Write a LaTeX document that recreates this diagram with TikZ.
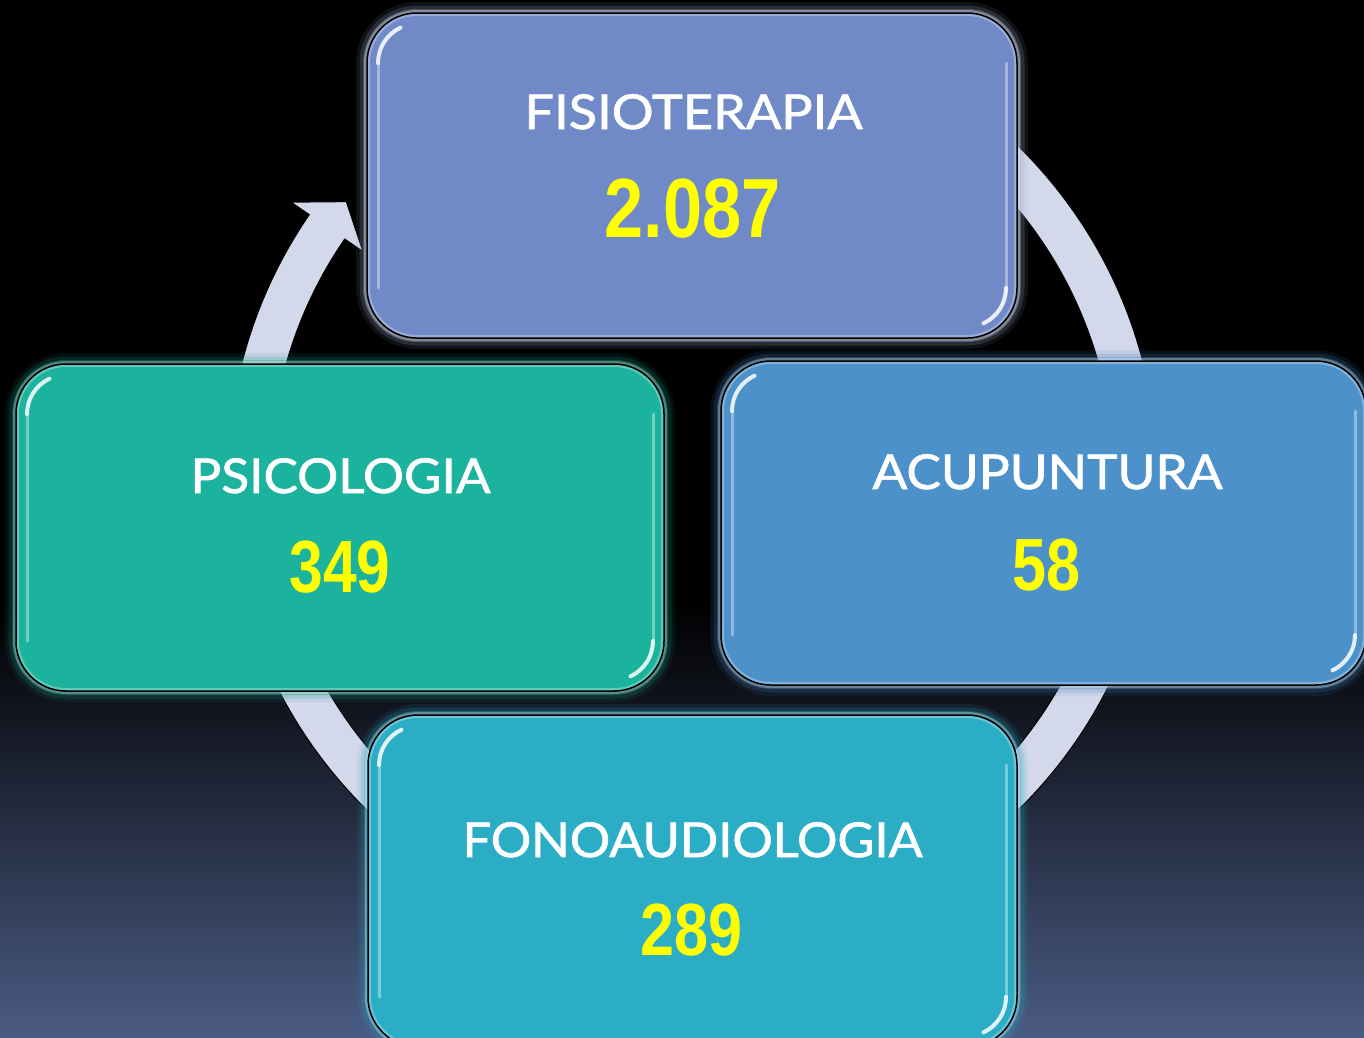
\documentclass[tikz,border=0pt]{standalone}
\usepackage{fontspec}
\usepackage{graphicx}
\usetikzlibrary{calc}
\newfontfamily\labfont{Lato}[FakeBold=1.4]
\newfontfamily\numfont{Liberation Sans}[FakeStretch=0.8]
\definecolor{ringc}{HTML}{D3D8EA}
\definecolor{bgmid}{HTML}{10131C}
\definecolor{bgbot}{HTML}{4A5B83}
\definecolor{cfis}{HTML}{7089C7}
\definecolor{cpsi}{HTML}{1BB29E}
\definecolor{cacu}{HTML}{4C91CA}
\definecolor{cfon}{HTML}{2BADC6}
\definecolor{gfis}{HTML}{9AA8CC}
\definecolor{gpsi}{HTML}{1A9A88}
\definecolor{gacu}{HTML}{4585BD}
\definecolor{gfon}{HTML}{2AA5C0}
\definecolor{numyellow}{HTML}{FFFF00}
\begin{document}
\begin{tikzpicture}[x=1pt,y=-1pt,
  glowbox/.style={preaction={draw=#1,line width=22pt,draw opacity=0.10},
                  preaction={draw=#1,line width=15pt,draw opacity=0.18},
                  preaction={draw=#1,line width=8pt,draw opacity=0.35}},
  boxbase/.style={rectangle, rounded corners=50pt, inner sep=0pt, outer sep=0pt,
                  postaction={draw=white, draw opacity=0.30, line width=6pt},
                  postaction={draw=black, line width=1.5pt}},
  labtxt/.style={text=white, inner sep=0pt, anchor=base,
                 font=\labfont\fontsize{48}{48}\selectfont},
  numtxt/.style={text=numyellow, inner sep=0pt, anchor=base,
                 font=\numfont\bfseries\fontsize{74}{74}\selectfont},
  hlw/.style={draw=white, line width=3pt, draw opacity=0.38, line cap=round},
  hlc/.style={draw=white, line width=4pt, draw opacity=0.85, line cap=round}]
\useasboundingbox (0,0) rectangle (1364,1037);
\clip (0,0) rectangle (1364,1037);
% background
\fill[black] (0,0) rectangle (1364,1037);
\shade[top color=black, bottom color=bgmid] (0,600) rectangle (1364,700);
\shade[top color=bgmid, bottom color=bgbot] (0,699.5) rectangle (1364,1037);
% ring with arrow
\coordinate (rc) at (692.5,478);
\filldraw[fill=ringc, draw=black, line width=1pt]
  ($(rc)+(-130:465)$) arc[start angle=-130, end angle=214.5, radius=465]
  -- ($(rc)+(214.5:487)$) -- ($(rc)+(218.6:443)$) -- ($(rc)+(214.5:400)$)
  -- ($(rc)+(214.5:422)$) arc[start angle=214.5, end angle=-130, radius=422]
  -- cycle;
% boxes
\node[boxbase, glowbox=gfis, fill=cfis, minimum width=650pt, minimum height=325pt] (fis) at (692,175.5) {};
\node[boxbase, glowbox=gpsi, fill=cpsi, minimum width=648pt, minimum height=327pt] (psi) at (340,527.5) {};
\node[boxbase, glowbox=gacu, fill=cacu, minimum width=645pt, minimum height=324pt] (acu) at (1043.5,523) {};
\node[boxbase, glowbox=gfon, fill=cfon, minimum width=649pt, minimum height=332pt] (fon) at (692.5,881) {};
% highlights
\foreach \n in {fis,psi,acu,fon}{
  \draw[hlw] ($(\n.south west)+(11,-50)$) -- ($(\n.north west)+(11,50)$);
  \draw[hlc] ($(\n.north west)+(11,50)$) arc[start angle=180, end angle=245, radius=39];
  \draw[hlw] ($(\n.north east)+(-11,50)$) -- ($(\n.south east)+(-11,-50)$);
  \draw[hlc] ($(\n.south east)+(-11,-50)$) arc[start angle=0, end angle=65, radius=39];
}
% texts
\node[labtxt] (fisT) at (693.5,129) {\resizebox{338pt}{\height}{FISIOTERAPIA}};
\node[numtxt, font=\numfont\bfseries\fontsize{84}{84}\selectfont] (fisN) at (692.5,237) {\resizebox{176pt}{\height}{2.087}};
\node[labtxt] (psiT) at (340.5,493) {\resizebox{300pt}{\height}{PSICOLOGIA}};
\node[numtxt] (psiN) at (340,592) {\resizebox{101pt}{\height}{349}};
\node[labtxt] (acuT) at (1047.5,489) {\resizebox{350pt}{\height}{ACUPUNTURA}};
\node[numtxt] (acuN) at (1046.5,590) {\resizebox{68pt}{\height}{58}};
\node[labtxt] (fonT) at (692.5,857) {\resizebox{460pt}{\height}{FONOAUDIOLOGIA}};
\node[numtxt] (fonN) at (691.5,955) {\resizebox{102pt}{\height}{289}};
\end{tikzpicture}
\end{document}
